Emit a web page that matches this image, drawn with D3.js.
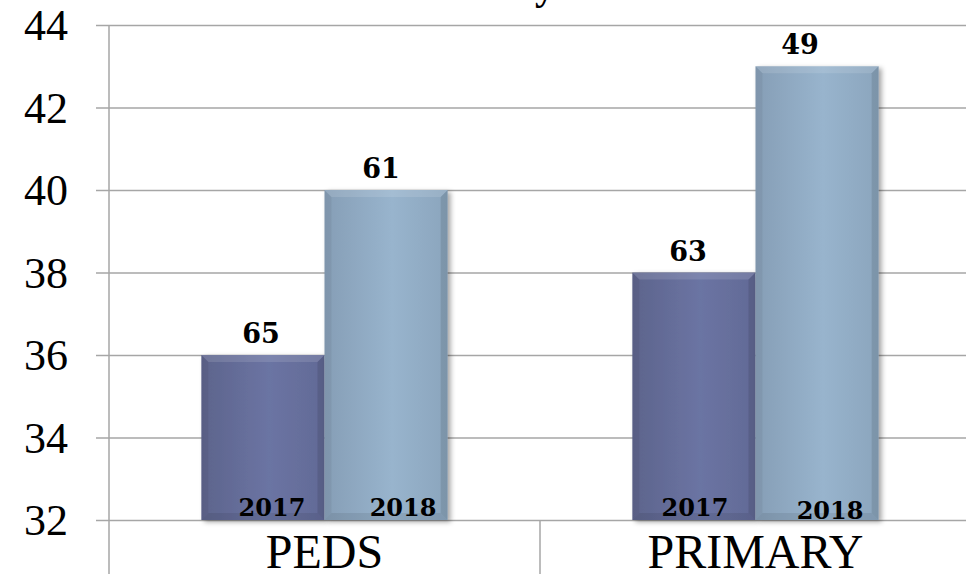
<!DOCTYPE html>
<html>
<head>
<meta charset="utf-8">
<script src="https://cdn.jsdelivr.net/npm/d3@7"></script>
<style>
  html, body { margin: 0; padding: 0; background: #fff; }
  svg { display: block; }
  .serif { font-family: 'Liberation Serif', Tinos, 'Times New Roman', Times, serif; }
  .bold-serif { font-family: 'DejaVu Serif', serif; font-weight: bold; }
</style>
</head>
<body>
<div id="chart"></div>
<script>
// data
const categories = ['PEDS', 'PRIMARY'];
const years = ['2017', '2018'];
const barValues = [[36, 40], [38, 43]];        // bar heights on the axis
const barLabels = [['65', '61'], ['63', '49']]; // numbers printed over bars
const yTicks = [32, 34, 36, 38, 40, 42, 44];

// hand-placed label nudges (as in the original, labels were dragged)
const valueNudge = [[-2, -5], [-6, -17]];
const yearNudge = [[[9, 0], [17, 0]], [[1, 0], [13, 3]]];

const width = 966, height = 574;
const plotLeft = 109, plotTop = 25, plotBottom = 520;

const svg = d3.select('#chart').append('svg')
  .attr('width', width)
  .attr('height', height);

const defs = svg.append('defs');

// bar colours
const palette = {
  '2017': ['#5d648c', '#6b74a3', '#626a96'],
  '2018': ['#869eb6', '#98b4cd', '#8ba5bd']
};
years.forEach(yr => {
  const g = defs.append('linearGradient')
    .attr('id', 'grad' + yr)
    .attr('x1', '0%').attr('x2', '100%').attr('y1', '0%').attr('y2', '0%');
  g.append('stop').attr('offset', '0%').attr('stop-color', palette[yr][0]);
  g.append('stop').attr('offset', '55%').attr('stop-color', palette[yr][1]);
  g.append('stop').attr('offset', '100%').attr('stop-color', palette[yr][2]);
});

const shadow = defs.append('filter')
  .attr('id', 'shadow')
  .attr('x', '-10%').attr('y', '-10%').attr('width', '130%').attr('height', '130%');
shadow.append('feDropShadow')
  .attr('dx', 3).attr('dy', 2)
  .attr('stdDeviation', 2.5)
  .attr('flood-color', '#000')
  .attr('flood-opacity', 0.35);

const y = d3.scaleLinear()
  .domain([32, 44])
  .range([plotBottom, plotTop]);

const x = d3.scaleBand()
  .domain(categories)
  .range([plotLeft, plotLeft + 862])
  .paddingInner(0)
  .paddingOuter(0);

const xInner = d3.scaleBand()
  .domain(years)
  .range([0, x.bandwidth()])
  .paddingInner(0)
  .paddingOuter(0.75);

// y axis with gridlines
const yAxis = svg.append('g')
  .attr('transform', `translate(${plotLeft},0)`)
  .call(d3.axisLeft(y).tickValues(yTicks).tickSize(13).tickPadding(28))
  .attr('font-family', null)
  .attr('font-size', null);

yAxis.select('.domain').remove();
yAxis.selectAll('.tick line')
  .attr('x1', -13)
  .attr('x2', width - plotLeft)
  .attr('stroke', '#a6a6a6')
  .attr('stroke-width', 1.5);
yAxis.selectAll('.tick text')
  .attr('class', 'serif')
  .style('font-size', '44px')
  .attr('fill', '#000')
  .attr('dy', '0.34em');

// vertical axis line and category dividers
svg.append('line')
  .attr('x1', plotLeft).attr('x2', plotLeft)
  .attr('y1', plotTop).attr('y2', height)
  .attr('stroke', '#a6a6a6').attr('stroke-width', 1.5);

svg.selectAll('.divider')
  .data(categories.slice(1))
  .enter()
  .append('line')
  .attr('class', 'divider')
  .attr('x1', d => x(d)).attr('x2', d => x(d))
  .attr('y1', plotBottom).attr('y2', height)
  .attr('stroke', '#a6a6a6').attr('stroke-width', 1.5);

// bars
const rows = [];
categories.forEach((cat, i) => {
  years.forEach((yr, j) => {
    rows.push({cat, yr, i, j, value: barValues[i][j], label: barLabels[i][j]});
  });
});

const bars = svg.append('g')
  .selectAll('g')
  .data(rows)
  .enter()
  .append('g')
  .attr('transform', d => `translate(${x(d.cat) + xInner(d.yr)},0)`);

const bw = xInner.bandwidth();
const bev = 7;

bars.append('rect')
  .attr('x', 0)
  .attr('y', d => y(d.value))
  .attr('width', bw)
  .attr('height', d => plotBottom - y(d.value))
  .attr('fill', d => 'url(#grad' + d.yr + ')')
  .attr('filter', 'url(#shadow)');

// bevel faces
function bevel(d, side) {
  const x0 = 0, x1 = bw, y0 = y(d.value), y1 = plotBottom;
  if (side === 'top') return [[x0, y0], [x1, y0], [x1 - bev, y0 + bev], [x0 + bev, y0 + bev]];
  if (side === 'left') return [[x0, y0], [x0 + bev, y0 + bev], [x0 + bev, y1 - bev], [x0, y1]];
  if (side === 'right') return [[x1, y0], [x1, y1], [x1 - bev, y1 - bev], [x1 - bev, y0 + bev]];
  return [[x0, y1], [x0 + bev, y1 - bev], [x1 - bev, y1 - bev], [x1, y1]];
}
const faces = [
  {side: 'top', fill: '#ffffff', op: 0.12},
  {side: 'left', fill: '#000000', op: 0.05},
  {side: 'right', fill: '#000000', op: 0.10},
  {side: 'bottom', fill: '#000000', op: 0.08}
];
faces.forEach(f => {
  bars.append('polygon')
    .attr('points', d => bevel(d, f.side).map(p => p.join(',')).join(' '))
    .attr('fill', f.fill)
    .attr('fill-opacity', f.op);
});

// value labels above bars
bars.append('text')
  .attr('class', 'bold-serif')
  .attr('x', d => bw / 2 + valueNudge[d.i][d.j])
  .attr('y', d => y(d.value) - 12)
  .attr('text-anchor', 'middle')
  .style('font-size', '27px')
  .attr('fill', '#000')
  .text(d => d.label);

// year labels at the base of each bar
bars.append('text')
  .attr('class', 'bold-serif')
  .attr('x', d => bw / 2 + yearNudge[d.i][d.j][0])
  .attr('y', d => plotBottom - 4 + yearNudge[d.i][d.j][1])
  .attr('text-anchor', 'middle')
  .style('font-size', '24px')
  .attr('fill', '#000')
  .text(d => d.yr);

// category labels
svg.append('g')
  .selectAll('text')
  .data(categories)
  .enter()
  .append('text')
  .attr('class', 'serif')
  .attr('x', d => x(d) + x.bandwidth() / 2)
  .attr('y', 568)
  .attr('text-anchor', 'middle')
  .style('font-size', '48px')
  .attr('fill', '#000')
  .text(d => d);

// title sits above the frame; only a descender shows
svg.append('text')
  .attr('class', 'serif')
  .attr('x', 545)
  .attr('y', -1)
  .attr('text-anchor', 'middle')
  .style('font-size', '40px')
  .style('font-weight', 'bold')
  .text('y');
</script>
</body>
</html>
